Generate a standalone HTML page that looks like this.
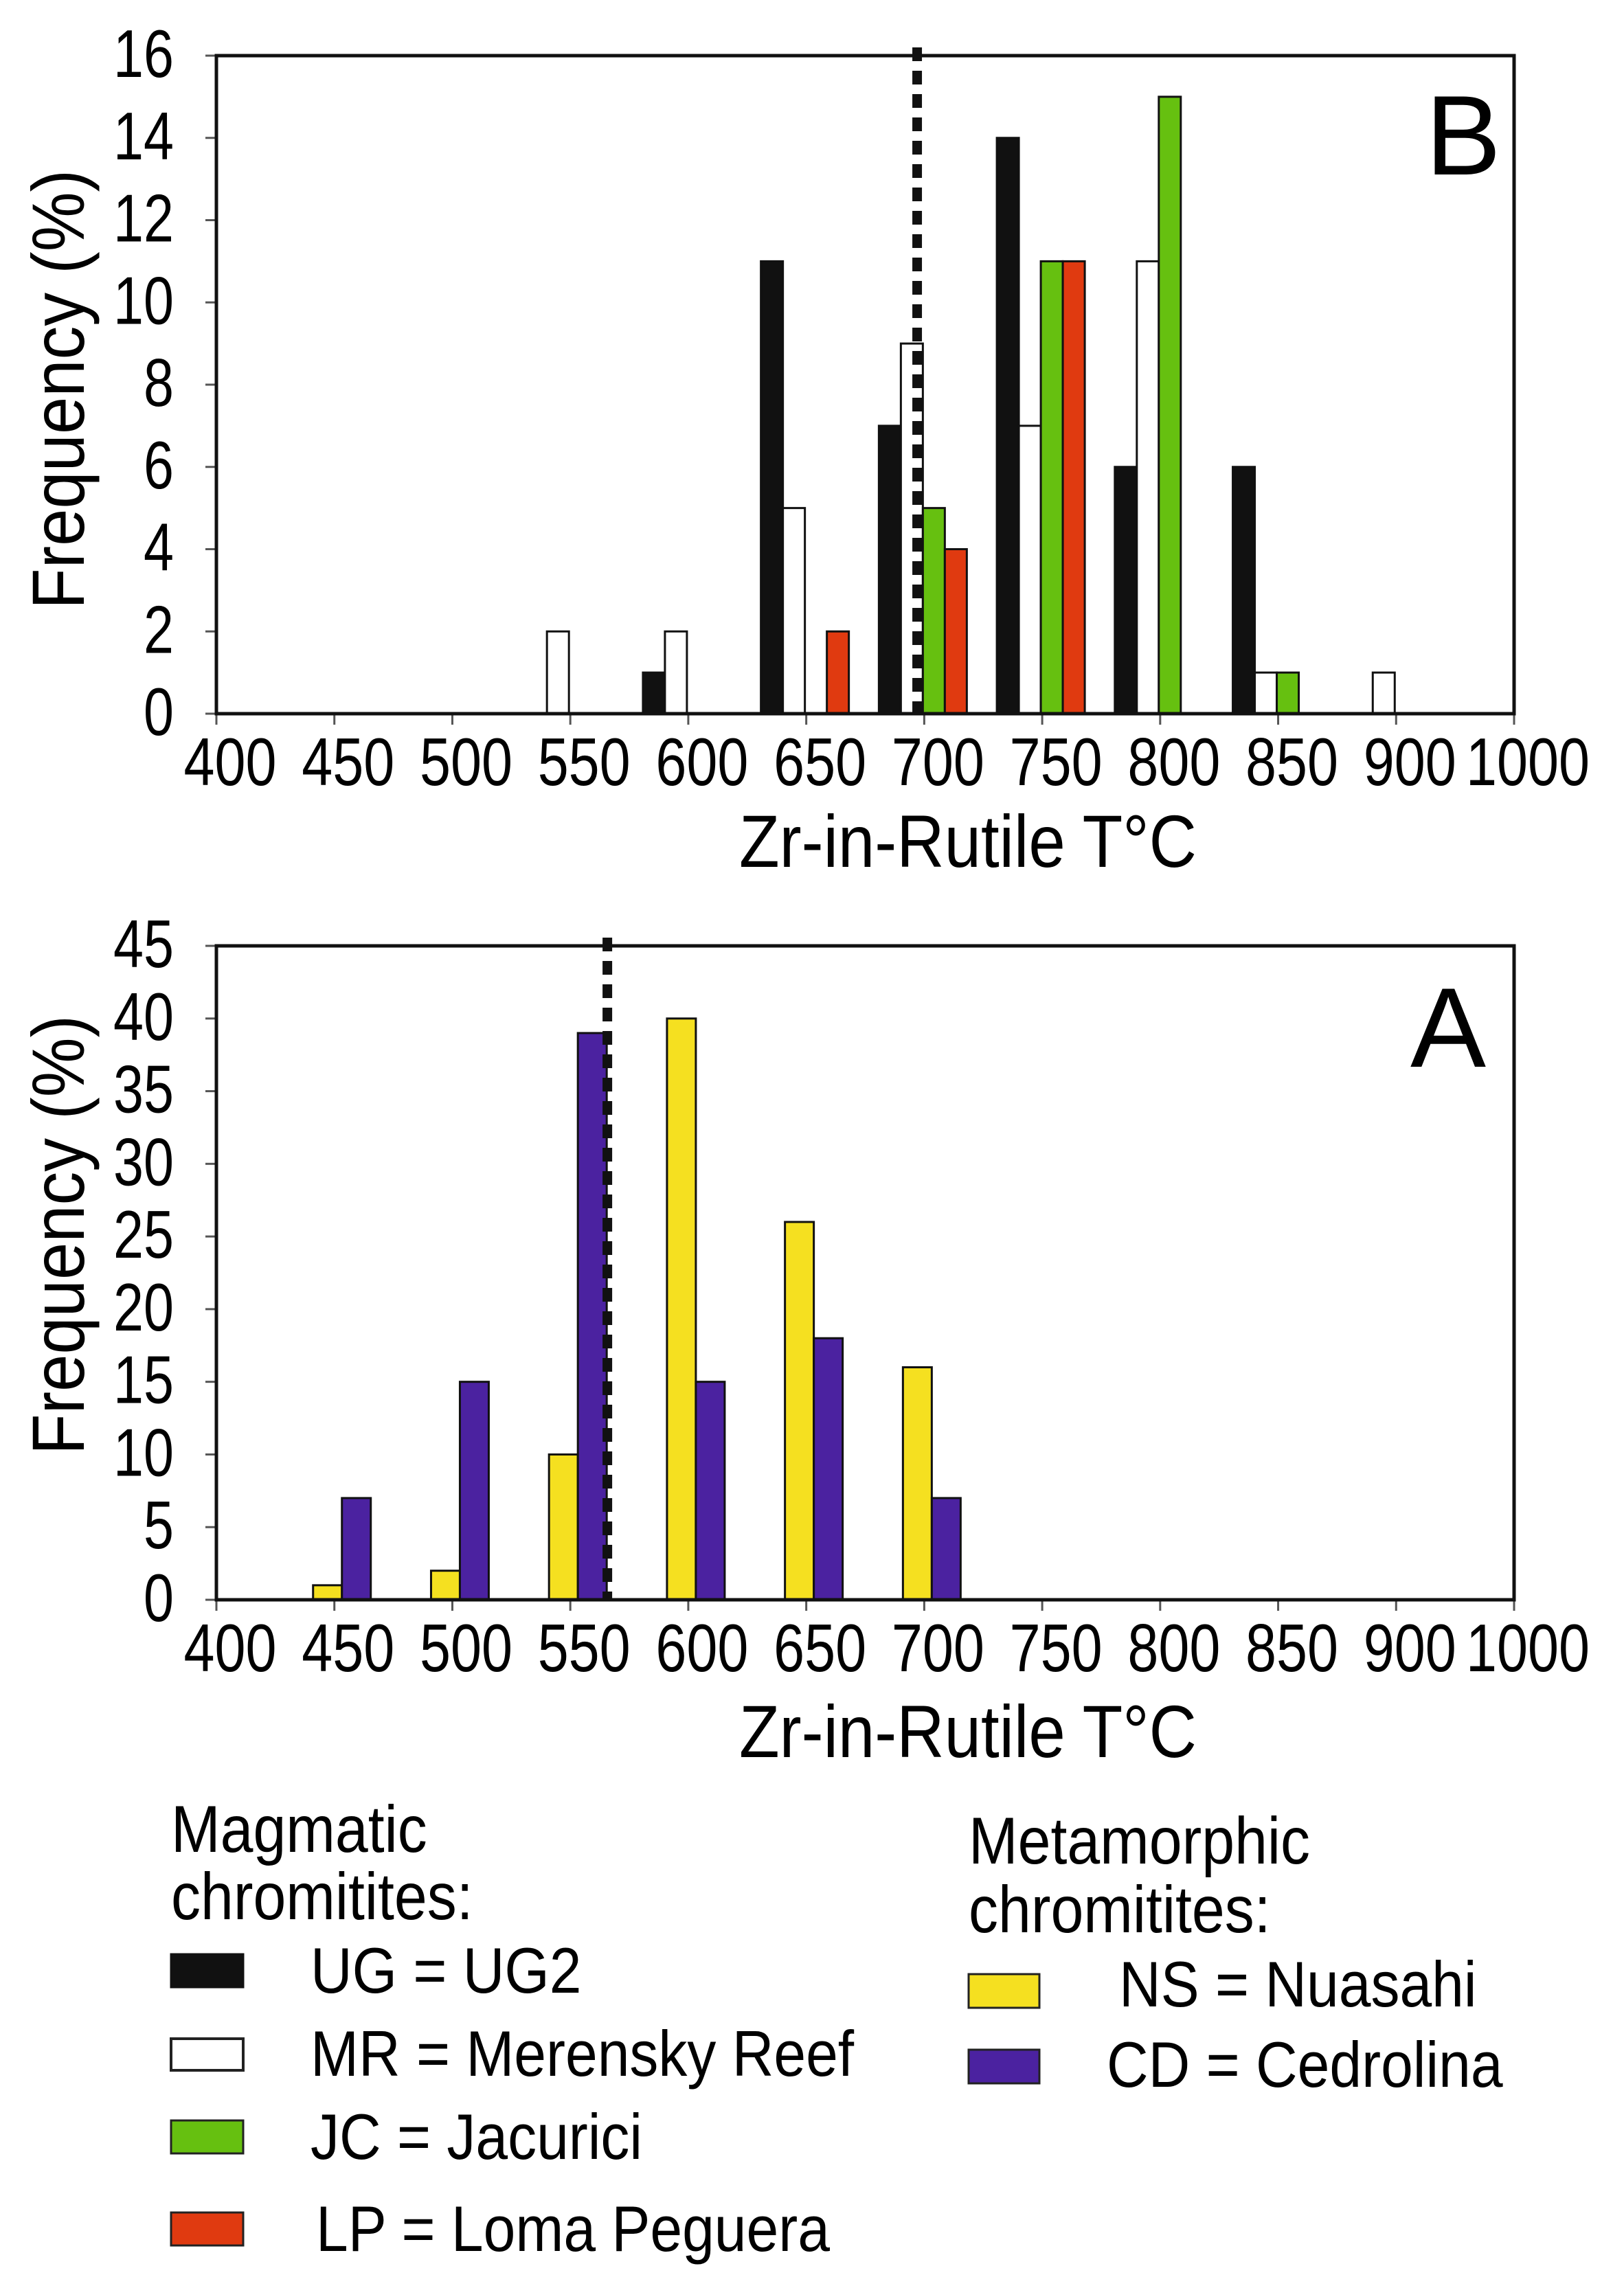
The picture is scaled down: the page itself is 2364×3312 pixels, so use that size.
<!DOCTYPE html>
<html><head><meta charset="utf-8"><style>
html,body{margin:0;padding:0;background:#fff;}
svg{display:block;font-family:"Liberation Sans",Arial,sans-serif;}
</style></head><body>
<svg id="fig" width="2364" height="3312" viewBox="0 0 2364 3312" xmlns="http://www.w3.org/2000/svg">
<rect x="0" y="0" width="2364" height="3312" fill="#fff"/>
<g id="chartB"></g>
<g id="chartA"></g>
<g id="legend">
  <text class="st" x="249" y="2696" font-size="86">Magmatic</text>
  <text class="st" x="249" y="2794" font-size="86">chromitites:</text>
  <rect x="249" y="2845" width="105" height="48" fill="#111" stroke="#111" stroke-width="3"/>
  <text class="st" x="452" y="2901" font-size="84">UG = UG2</text>
  <rect x="249" y="2968" width="105" height="46" fill="#fff" stroke="#222" stroke-width="4"/>
  <text class="st" x="452" y="3022" font-size="84">MR = Merensky Reef</text>
  <rect x="249" y="3087" width="105" height="48" fill="#66c010" stroke="#222" stroke-width="3"/>
  <text class="st" x="452" y="3143" font-size="84">JC = Jacurici</text>
  <rect x="249" y="3221" width="105" height="48" fill="#e03a10" stroke="#222" stroke-width="3"/>
  <text class="st" x="460" y="3277" font-size="84">LP = Loma Peguera</text>
  <text class="st" x="1410" y="2713" font-size="86">Metamorphic</text>
  <text class="st" x="1410" y="2813" font-size="86">chromitites:</text>
  <rect x="1410" y="2874" width="103" height="49" fill="#f5e020" stroke="#222" stroke-width="3"/>
  <text class="st" x="1629" y="2921" font-size="84">NS = Nuasahi</text>
  <rect x="1410" y="2984" width="103" height="49" fill="#4b22a0" stroke="#222" stroke-width="3"/>
  <text class="st" x="1611" y="3038" font-size="84">CD = Cedrolina</text>
</g>
</svg>
<script>
// Shared x categories (bin labels at ticks)
const xTickLabels = ["400","450","500","550","600","650","700","750","800","850","900","1000"];
// Chart B data (bins)
const binsB = ["550","600","650","700","750","800","850","900"];
const ugB = [0,1,11,7,14,6,6,0];
const mrB = [2,2,5,9,7,11,1,1];
const jcB = [0,0,0,5,11,15,1,0];
const lpB = [0,0,2,4,11,0,0,0];
const yTicksB = [0,2,4,6,8,10,12,14,16];
const refLineB = 697;
// Chart A data
const binsA = ["450","500","550","600","650","700"];
const nsA = [1,2,10,40,26,16];
const cdA = [7,15,39,15,18,7];
const yTicksA = [0,5,10,15,20,25,30,35,40,45];
const refLineA = 565.7;

const NS = "http://www.w3.org/2000/svg";
const L = 315, R = 2204, STEP = (R - L) / 11;
function xIdx(label){ return xTickLabels.indexOf(label); }
function xPos(label){ return L + xIdx(label) * STEP; }
function xVal(v){ return L + (v - 400) / 50 * STEP; }
function mk(tag, attrs, parent){
  const e = document.createElementNS(NS, tag);
  for (const k in attrs) e.setAttribute(k, attrs[k]);
  parent.appendChild(e);
  return e;
}

function drawChart(g, cfg){
  const top = cfg.top, bot = cfg.bot, ymax = cfg.ymax;
  const y = v => bot - (v / ymax) * (bot - top);
  cfg.yTicks.forEach(t => {
    const ln = mk('line', {x1:L-16, x2:L, y1:y(t), y2:y(t), stroke:'#555', 'stroke-width':3}, g);
    
    
    const s = String(t);
    const tx = mk('text', {class:'st', x:253, y:y(t)+31, 'font-size':88, 'text-anchor':'end', textLength:s.length*44, lengthAdjust:'spacingAndGlyphs'}, g);
    tx.textContent = s;
    
    
  });
  xTickLabels.forEach(lab => {
    const xp = xPos(lab);
    const ln = mk('line', {x1:xp, x2:xp, y1:bot, y2:bot+16, stroke:'#555', 'stroke-width':3}, g);
    
    
    const tx = mk('text', {class:'st', x:xp+20, y:bot+104, 'font-size':88, 'text-anchor':'middle', textLength:lab.length*45, lengthAdjust:'spacingAndGlyphs'}, g);
    tx.textContent = lab;
    
    
  });
  cfg.series.forEach(s => {
    cfg.bins.forEach((b, i) => {
      const v = s.values[i];
      if (!v) return;
      const x0 = xPos(b) + s.off;
      const r = mk('rect', {x:x0, y:y(v), width:s.w, height:bot - y(v), fill:s.fill, stroke:'#111', 'stroke-width':3}, g);
      
      
    });
  });
  const rx = xVal(cfg.ref);
  const dl = mk('line', {x1:rx, x2:rx, y1:top-12, y2:bot, stroke:'#111', 'stroke-width':14, 'stroke-dasharray':'20 14'}, g);
  
  
  const fr = mk('rect', {x:L, y:top, width:R-L, height:bot-top, fill:'none', stroke:'#111', 'stroke-width':5}, g);
  
  
  const xt = mk('text', {class:'st', x:1409, y:cfg.xTitleY, 'font-size':96, 'text-anchor':'middle', textLength:666, lengthAdjust:'spacingAndGlyphs'}, g);
  xt.textContent = 'Zr-in-Rutile T°C';
  
  
  const yt = mk('text', {x:0, y:0, 'font-size':98, 'text-anchor':'middle', textLength:640, lengthAdjust:'spacingAndGlyphs', transform:'translate(122,' + cfg.yTitleY + ') rotate(-90) scale(1,1.1)'}, g);
  yt.textContent = 'Frequency (%)';
  
  
  const pl = mk('text', {x:cfg.letterX, y:cfg.letterY, 'font-size':165}, g);
  pl.textContent = cfg.letter;
  
  
}

drawChart(document.getElementById('chartB'), {
  top:81, bot:1039, ymax:16, yTicks:yTicksB, bins:binsB, ref:refLineB,
  series:[
    {name:'ug', values:ugB, fill:'#111', off:-66, w:32},
    {name:'mr', values:mrB, fill:'#fff', off:-34, w:32},
    {name:'jc', values:jcB, fill:'#66c010', off:-2, w:32},
    {name:'lp', values:lpB, fill:'#e03a10', off:30, w:32}
  ],
  xTitleY:1262, yTitleY:567, letter:'B', letterX:2075, letterY:254
});
drawChart(document.getElementById('chartA'), {
  top:1377, bot:2329, ymax:45, yTicks:yTicksA, bins:binsA, ref:refLineA,
  series:[
    {name:'ns', values:nsA, fill:'#f5e020', off:-31, w:42},
    {name:'cd', values:cdA, fill:'#4b22a0', off:11, w:42}
  ],
  xTitleY:2558, yTitleY:1798, letter:'A', letterX:2053, letterY:1553
});

// slight vertical stretch of text to mimic the condensed original typeface
document.querySelectorAll('text.st').forEach(t => {
  const x = t.getAttribute('x'), yy = t.getAttribute('y');
  t.setAttribute('x', 0);
  t.setAttribute('y', 0);
  t.setAttribute('transform', 'translate(' + x + ',' + yy + ') scale(1,1.12)');
});
</script>
</body></html>
